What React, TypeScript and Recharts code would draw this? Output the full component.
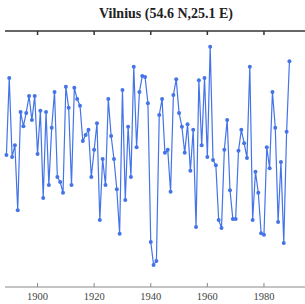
import { LineChart, Line, XAxis, YAxis } from 'recharts';

// annual mean temperature, Vilnius
const years: number[] = Array.from({ length: 101 }, (_, i) => 1889 + i);
const temps = [
  5.58, 7.08, 5.54, 5.77, 4.5, 6.42, 6.14, 6.4, 6.73, 6.26,
  6.73, 5.6, 6.44, 4.74, 6.42, 4.99, 6.11, 6.81, 5.15, 5.05,
  4.84, 6.91, 6.5, 4.99, 6.89, 6.67, 6.54, 5.85, 5.97, 6.07,
  5.15, 5.68, 6.2, 4.31, 5.5, 4.99, 6.67, 5.95, 5.5, 4.91,
  4.04, 6.85, 4.7, 6.13, 5.15, 7.3, 5.73, 6.81, 7.12, 7.1,
  6.59, 3.88, 3.43, 3.51, 6.36, 6.67, 5.62, 5.68, 4.86, 6.75,
  7.06, 6.4, 6.13, 5.62, 6.18, 5.27, 6.07, 4.17, 7.04, 5.77,
  7.08, 5.54, 7.69, 5.48, 5.38, 4.31, 4.15, 5.68, 6.26, 4.89,
  4.33, 4.33, 5.66, 6.07, 5.81, 5.52, 7.3, 4.31, 5.25, 4.84,
  4.05, 4.02, 5.73, 5.32, 6.81, 6.11, 4.27, 5.44, 3.86, 6.03,
  7.41,
];
const yearTicks = [1900, 1920, 1940, 1960, 1980];

const data = years.map((year, i) => ({ year, temp: temps[i] }));

const blue = '#4474e8';

// serif tick labels under the bottom axis
function YearTick({ x, y, payload }: any) {
  return (
    <text
      x={x}
      y={y}
      dy={9}
      textAnchor="middle"
      fill="#444"
      fontSize={10.5}
      fontFamily='"Liberation Serif", serif'
    >
      {payload.value}
    </text>
  );
}

export default function App() {
  return (
    <div
      style={{
        position: 'absolute',
        left: 0,
        top: 0,
        width: 305,
        height: 304,
        background: '#fff',
        fontFamily: '"Liberation Serif", serif',
      }}
    >
      <div
        style={{
          position: 'absolute',
          left: 166,
          top: 7,
          transform: 'translateX(-50%)',
          whiteSpace: 'nowrap',
          fontWeight: 'bold',
          fontSize: 14,
          lineHeight: 1,
          color: '#222',
        }}
      >
        Vilnius (54.6 N,25.1 E)
      </div>
      <LineChart width={305} height={304} data={data} margin={{ top: 30, right: 0, bottom: 0, left: 5 }}>
        <XAxis
          xAxisId="top"
          orientation="top"
          dataKey="year"
          type="number"
          domain={[1888.5, 1994.5]}
          ticks={yearTicks}
          height={1}
          tickSize={-4}
          tickFormatter={() => ''}
          stroke="#333"
          strokeWidth={1.5}
        />
        <XAxis
          dataKey="year"
          type="number"
          domain={[1888.5, 1994.5]}
          ticks={yearTicks}
          height={17}
          tickSize={-4}
          tickMargin={8}
          stroke="#888"
          tick={<YearTick />}
        />
        <YAxis hide domain={[3, 8]} />
        <Line
          xAxisId={0}
          dataKey="temp"
          stroke={blue}
          strokeWidth={1.2}
          dot={{ r: 2, fill: blue, stroke: 'none' }}
          isAnimationActive={false}
        />
      </LineChart>
    </div>
  );
}
